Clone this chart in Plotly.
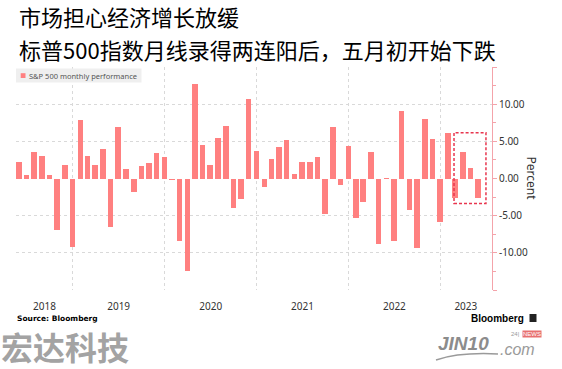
import pandas as pd
import plotly.graph_objects as go

# ---------------- data ----------------
months = pd.date_range("2018-05-31", periods=61, freq="ME")
performance = [
    2.16, 0.48, 3.60, 3.03, 0.43, -6.94, 1.79, -9.18,                       # 2018 May-Dec
    7.87, 2.97, 1.79, 3.93, -6.58, 6.89, 1.31, -1.81, 1.72, 2.04, 3.40, 2.86,  # 2019
    -0.16, -8.41, -12.51, 12.68, 4.53, 1.84, 5.51, 7.01, -3.92, -2.77, 10.75, 3.71,  # 2020
    -1.11, 2.61, 4.24, 5.24, 0.55, 2.22, 2.27, 2.90, -4.76, 6.91, -0.83, 4.36,  # 2021
    -5.26, -3.14, 3.58, -8.80, 0.01, -8.39, 9.11, -4.24, -9.34, 7.99, 5.38, -5.90,  # 2022
    6.18, -2.61, 3.51, 1.46, -2.60,                                          # 2023 Jan-May
]
year_labels = ["2018", "2019", "2020", "2021", "2022", "2023"]
year_label_dates = ["2018-09-10", "2019-07-02", "2020-07-02", "2021-07-02", "2022-07-02", "2023-04-12"]
year_starts = ["2019-01-01", "2020-01-01", "2021-01-01", "2022-01-01", "2023-01-01"]
y_ticks = [-15, -10, -5, 0, 5, 10, 15]
y_ticktext = ["", "-10.00", "-5.00", "0.00", "5.00", "10.00", ""]
highlight_dates = ["2023-02-24", "2023-07-01"]
highlight_values = [-3.35, 6.16]

title1 = "市场担心经济增长放缓"
title2 = "标普500指数月线录得两连阳后，五月初开始下跌"

# ---------------- layout geometry ----------------
W_FIG, H_FIG = 562, 369
L, R, T, B = 16, 492, 67, 290
PW, PH = R - L, B - T


def fx(px):
    return (px - L) / PW


def fy(py):
    return (B - py) / PH


BAR_COLOR = "#FF8080"
AXIS_PINK = "#F4A3AA"

fig = go.Figure()
fig.add_trace(go.Bar(
    x=months, y=performance,
    width=22 * 86400000,
    marker=dict(color=BAR_COLOR, line=dict(width=0)),
    showlegend=False,
    name="S&P 500 monthly performance",
))

fig.update_layout(
    width=W_FIG, height=H_FIG,
    margin=dict(l=L, r=W_FIG - R, t=T, b=H_FIG - B, pad=0),
    paper_bgcolor="white", plot_bgcolor="white",
    bargap=0,
    font=dict(family="Noto Sans", color="#333333"),
    xaxis=dict(
        type="date",
        range=["2018-05-20", "2023-07-25"],
        tickmode="array", tickvals=year_label_dates, ticktext=year_labels,
        showgrid=False, ticks="", showline=False, zeroline=False,
        tickfont=dict(size=10, color="#333333"),
        ticklabelstandoff=9,
        minor=dict(tickmode="array", tickvals=year_starts, showgrid=True,
                   gridcolor="#d9d9d9", griddash="dot", gridwidth=1, ticks=""),
    ),
    yaxis=dict(
        side="right", range=[-15, 15],
        tickmode="array", tickvals=y_ticks, ticktext=y_ticktext,
        showgrid=True, gridcolor="#d9d9d9", griddash="dot", gridwidth=1,
        zeroline=True, zerolinecolor="white", zerolinewidth=1,
        showline=True, linecolor=AXIS_PINK, linewidth=1,
        ticks="outside", ticklen=4, tickcolor=AXIS_PINK, tickwidth=1,
        tickfont=dict(size=10, color="#333333"),
        minor=dict(dtick=2.5, tick0=0, ticks="outside", ticklen=3,
                   tickcolor=AXIS_PINK, showgrid=False),
    ),
)

shapes = [
    # highlight box
    dict(type="rect", xref="x", yref="y",
         x0=highlight_dates[0], x1=highlight_dates[1],
         y0=highlight_values[0], y1=highlight_values[1],
         line=dict(color="#E8364F", width=1.5, dash="3px,2px"),
         fillcolor="rgba(0,0,0,0)"),
    # legend box
    dict(type="rect", xref="paper", yref="paper",
         x0=fx(16), x1=fx(141.5), y0=fy(82.5), y1=fy(68.5),
         line=dict(width=0), fillcolor="#efefef", layer="above"),
    dict(type="rect", xref="paper", yref="paper",
         x0=fx(20.7), x1=fx(25.5), y0=fy(78), y1=fy(73.2),
         line=dict(width=0), fillcolor=BAR_COLOR, layer="above"),
    # bloomberg icon
    dict(type="rect", xref="paper", yref="paper",
         x0=fx(529.5), x1=fx(536.5), y0=fy(322), y1=fy(314),
         line=dict(width=0), fillcolor="#222222"),
    # jin10 swoosh
    dict(type="path", xref="paper", yref="paper",
         path=f"M {fx(436)},{fy(360)} Q {fx(460)},{fy(352)} {fx(498)},{fy(354)}",
         line=dict(color="#9a9a9a", width=1.5)),
]
fig.update_layout(shapes=shapes)

ann = []


def add_text(text, px, py, size, color="#333333", family="Noto Sans",
             xanchor="left", angle=0, **kw):
    ann.append(dict(text=text, x=fx(px), y=fy(py), xref="paper", yref="paper",
                    xanchor=xanchor, yanchor="middle", showarrow=False,
                    textangle=angle, font=dict(size=size, color=color, family=family), **kw))


add_text(title1, 18, 16.5, 22, "#000000", "Noto Sans CJK SC", borderpad=0)
add_text(title2, 18, 48.5, 22, "#000000", "Noto Sans CJK SC", borderpad=0)
add_text("S&P 500 monthly performance", 26.5, 75.5, 7.5, "#555555")
add_text("Percent", 531.5, 178, 12, "#333333", xanchor="center", angle=90)
add_text("<b>Source: Bloomberg</b>", 16, 318, 7.5, "#000000", "DejaVu Sans", borderpad=0)
add_text("<b>Bloomberg</b>", 526, 318, 10, "#000000", "Liberation Sans", xanchor="right")
add_text("<b>宏达科技</b>", 0, 345.8, 32, "#a3a3a3", "Noto Sans CJK SC", borderpad=0)
add_text("<b><i>JIN10</i></b>", 436, 343, 19, "#8c8c8c", "Liberation Sans")
add_text("<i>.com</i>", 498, 349, 16, "#9a9a9a", "Liberation Sans")
add_text("24|", 509, 334, 6, "#999999", "Liberation Sans")
add_text("NEWS", 522, 334, 6, "#ffffff", "Liberation Sans", bgcolor="#e87070", borderpad=0)

fig.update_layout(annotations=ann)

fig.write_html(
    "out.html",
    config={"displayModeBar": False, "staticPlot": True},
    post_script="document.body.style.margin='0px';document.body.style.overflow='hidden';",
)
